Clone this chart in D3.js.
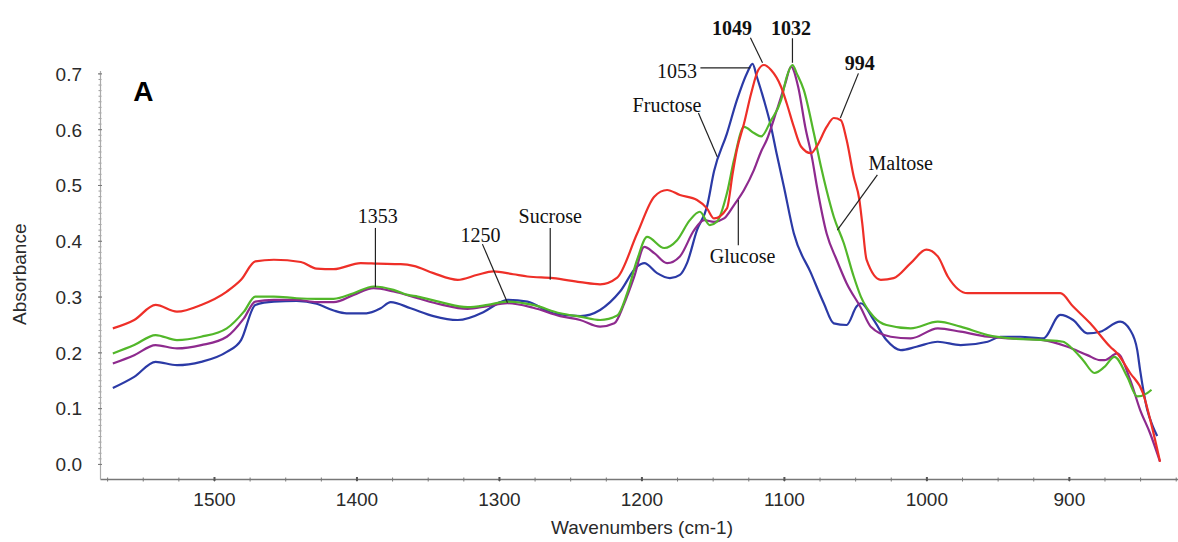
<!DOCTYPE html>
<html>
<head>
<meta charset="utf-8">
<script src="https://cdn.jsdelivr.net/npm/d3@7"></script>
<style>
  body { margin: 0; background: #fff; }
  svg { display: block; }
  .tick text { font-family: "Liberation Sans", Arial, sans-serif; font-size: 19px; fill: #2a2a2a; }
</style>
</head>
<body>
<script>
// absorbance spectra, [wavenumber, absorbance]
const sucrose = [
  [1571, 0.243], [1556, 0.258], [1541, 0.285], [1526, 0.273], [1509, 0.285], [1491, 0.309],
  [1481, 0.330], [1471, 0.363], [1458, 0.366], [1439, 0.362], [1428, 0.350], [1416, 0.349],
  [1397, 0.360], [1385, 0.359], [1369, 0.358], [1360, 0.355], [1346, 0.342], [1329, 0.330],
  [1315, 0.339], [1304, 0.345], [1290, 0.340], [1280, 0.336], [1262, 0.333], [1243, 0.326],
  [1229, 0.322], [1217, 0.334], [1203, 0.413], [1191, 0.479], [1182, 0.491], [1173, 0.482],
  [1161, 0.473], [1154, 0.458], [1149, 0.440], [1140, 0.458], [1136, 0.520], [1133, 0.563],
  [1128, 0.610], [1123, 0.664], [1118, 0.706], [1114, 0.715], [1109, 0.706], [1102, 0.676],
  [1098, 0.646], [1093, 0.604], [1088, 0.569], [1081, 0.557], [1077, 0.569], [1070, 0.604],
  [1065, 0.620], [1060, 0.616], [1056, 0.581], [1051, 0.515], [1047, 0.473], [1045, 0.431],
  [1042, 0.366], [1032, 0.330], [1023, 0.333], [1011, 0.360], [1000, 0.384], [992, 0.372],
  [985, 0.336], [971, 0.306], [953, 0.306], [929, 0.306], [906, 0.306], [897, 0.282],
  [885, 0.252], [871, 0.210], [866, 0.198], [857, 0.163], [848, 0.127], [842, 0.070], [836, 0.004]
]
const maltose = [
  [1571, 0.198], [1556, 0.213], [1541, 0.231], [1526, 0.222], [1509, 0.228], [1491, 0.243],
  [1479, 0.273], [1471, 0.300], [1458, 0.300], [1442, 0.297], [1428, 0.296], [1416, 0.296],
  [1402, 0.306], [1388, 0.318], [1374, 0.312], [1364, 0.303], [1357, 0.300], [1341, 0.290],
  [1322, 0.281], [1308, 0.285], [1294, 0.291], [1276, 0.285], [1257, 0.270], [1243, 0.264],
  [1229, 0.258], [1217, 0.266], [1210, 0.306], [1203, 0.366], [1196, 0.407], [1184, 0.387],
  [1175, 0.401], [1166, 0.437], [1159, 0.452], [1152, 0.428], [1147, 0.434], [1140, 0.485],
  [1135, 0.545], [1128, 0.604], [1121, 0.593], [1116, 0.587], [1109, 0.616], [1102, 0.652],
  [1098, 0.694], [1094, 0.715], [1091, 0.700], [1086, 0.670], [1079, 0.593], [1074, 0.533],
  [1070, 0.490], [1065, 0.443], [1058, 0.396], [1051, 0.336], [1046, 0.300], [1037, 0.264],
  [1028, 0.249], [1011, 0.243], [992, 0.255], [976, 0.246], [957, 0.231], [941, 0.225],
  [918, 0.222], [904, 0.219], [899, 0.210], [890, 0.186], [882, 0.163], [875, 0.174],
  [868, 0.192], [859, 0.156], [852, 0.121], [845, 0.127], [842, 0.133]
]
const glucose = [
  [1571, 0.180], [1556, 0.195], [1541, 0.213], [1526, 0.207], [1509, 0.213], [1491, 0.228],
  [1479, 0.261], [1471, 0.291], [1458, 0.294], [1442, 0.294], [1428, 0.290], [1416, 0.290],
  [1402, 0.303], [1388, 0.315], [1374, 0.309], [1357, 0.297], [1341, 0.286], [1322, 0.278],
  [1308, 0.283], [1294, 0.288], [1276, 0.280], [1257, 0.265], [1243, 0.258], [1229, 0.246],
  [1219, 0.252], [1212, 0.288], [1205, 0.336], [1198, 0.389], [1191, 0.378], [1182, 0.360],
  [1173, 0.372], [1163, 0.419], [1156, 0.437], [1149, 0.434], [1142, 0.440], [1135, 0.464],
  [1128, 0.491], [1121, 0.527], [1116, 0.560], [1112, 0.581], [1105, 0.634], [1099, 0.682],
  [1095, 0.712], [1090, 0.676], [1085, 0.604], [1080, 0.545], [1077, 0.500], [1070, 0.413],
  [1063, 0.366], [1056, 0.324], [1046, 0.280], [1039, 0.246], [1025, 0.228], [1011, 0.225],
  [992, 0.243], [976, 0.237], [957, 0.228], [941, 0.225], [918, 0.222], [901, 0.210],
  [887, 0.195], [878, 0.186], [875, 0.186], [866, 0.198], [857, 0.151], [850, 0.097],
  [843, 0.055], [836, 0.004]
]
const fructose = [
  [1571, 0.136], [1556, 0.156], [1541, 0.183], [1526, 0.177], [1509, 0.183], [1491, 0.201],
  [1481, 0.222], [1471, 0.285], [1458, 0.291], [1442, 0.292], [1428, 0.287], [1416, 0.275],
  [1407, 0.270], [1393, 0.270], [1383, 0.279], [1376, 0.290], [1362, 0.279], [1346, 0.265],
  [1329, 0.258], [1311, 0.272], [1299, 0.290], [1294, 0.294], [1280, 0.291], [1262, 0.270],
  [1243, 0.265], [1229, 0.276], [1215, 0.309], [1203, 0.354], [1198, 0.360], [1189, 0.342],
  [1180, 0.333], [1173, 0.339], [1168, 0.360], [1161, 0.419], [1154, 0.461], [1149, 0.525],
  [1140, 0.592], [1133, 0.652], [1126, 0.700], [1122, 0.717], [1119, 0.694], [1114, 0.652],
  [1109, 0.604], [1105, 0.555], [1100, 0.497], [1093, 0.413], [1081, 0.342], [1072, 0.288],
  [1065, 0.252], [1056, 0.249], [1049, 0.282], [1046, 0.288], [1037, 0.258], [1028, 0.222],
  [1018, 0.204], [1007, 0.210], [992, 0.219], [976, 0.213], [957, 0.219], [948, 0.228],
  [934, 0.228], [918, 0.225], [906, 0.267], [897, 0.258], [887, 0.234], [878, 0.237],
  [864, 0.255], [857, 0.240], [852, 0.204], [850, 0.168], [845, 0.097], [841, 0.067], [838, 0.050]
]

const xTicks = [1500, 1400, 1300, 1200, 1100, 1000, 900]
const yTicks = [0.0, 0.1, 0.2, 0.3, 0.4, 0.5, 0.6, 0.7]

// peak / band callouts: text at [wn, abs], leader from p1 to p2
const notes = [
  { text: '1353', at: [1385, 0.432], p1: [1386.7, 0.423], p2: [1386.7, 0.317] },
  { text: '1250', at: [1313, 0.398], p1: [1311.6, 0.394], p2: [1294, 0.289] },
  { text: 'Sucrose', at: [1264, 0.432], p1: [1264, 0.423], p2: [1264, 0.330] },
  { text: 'Glucose', at: [1129, 0.360], p1: [1132, 0.392], p2: [1132, 0.473] },
  { text: 'Fructose', at: [1182, 0.631], p1: [1160, 0.629], p2: [1146.7, 0.550] },
  { text: '1053', at: [1175, 0.692], p1: [1158.6, 0.710], p2: [1123.5, 0.710] },
  { text: '1049', at: [1136.5, 0.769], p1: [1123.5, 0.764], p2: [1115, 0.719], bold: true },
  { text: '1032', at: [1095, 0.769], p1: [1094, 0.763], p2: [1094, 0.719], bold: true },
  { text: '994', at: [1046.7, 0.706], p1: [1047.7, 0.700], p2: [1060.4, 0.620], bold: true },
  { text: 'Maltose', at: [1018, 0.527], p1: [1034.4, 0.518], p2: [1062.5, 0.419] }
]

const width = 1178
const height = 542

const svg = d3.select('body').append('svg')
  .attr('width', width)
  .attr('height', height)

const x = d3.scaleLinear().domain([1580, 823.4]).range([100, 1178])
const y = d3.scaleLinear().domain([-0.027, 0.705]).range([479, 70.6])

// minor ticks
svg.append('g')
  .attr('transform', 'translate(0,480.5)')
  .call(d3.axisBottom(x).tickValues(d3.range(1575, 824, -25)).tickFormat('').tickSizeInner(3).tickSizeOuter(0))
  .call(g => g.select('.domain').remove())
  .call(g => g.selectAll('line').attr('stroke', '#777').attr('transform', 'translate(0,-3)').attr('y2', 4))

svg.append('g')
  .attr('transform', 'translate(100,0)')
  .call(d3.axisLeft(y).tickValues(d3.range(0, 0.705, 0.01)).tickFormat('').tickSizeInner(3).tickSizeOuter(0))
  .call(g => g.select('.domain').remove())
  .call(g => g.selectAll('line').attr('stroke', '#999').attr('x1', 1.5).attr('x2', -1.5))

const xAxis = svg.append('g')
  .attr('transform', 'translate(0,479)')
  .call(d3.axisBottom(x).tickValues(xTicks).tickFormat(d3.format('d')).tickSizeInner(3).tickSizeOuter(0).tickPadding(11))
xAxis.select('.domain').attr('stroke', '#777').attr('stroke-width', 1.5)
xAxis.selectAll('.tick line').attr('stroke', '#555').attr('stroke-width', 2).attr('y1', -2).attr('y2', 2)

const yAxis = svg.append('g')
  .attr('transform', 'translate(100,0)')
  .call(d3.axisLeft(y).tickValues(yTicks).tickFormat(d3.format('.1f')).tickSizeInner(3).tickSizeOuter(0).tickPadding(15))
yAxis.select('.domain').attr('stroke', '#aaa').attr('stroke-width', 1.2)
yAxis.selectAll('.tick line').attr('stroke', '#777').attr('x1', 2).attr('x2', -2)
yAxis.selectAll('.tick text').attr('dy', '0.36em')

svg.append('text')
  .attr('x', x((1580 + 823.4) / 2) + 3)
  .attr('y', 534)
  .attr('text-anchor', 'middle')
  .style('font-family', '"Liberation Sans", Arial, sans-serif')
  .style('font-size', '19px')
  .style('fill', '#2a2a2a')
  .text('Wavenumbers (cm-1)')

svg.append('text')
  .attr('transform', `translate(26,${y(0.34)}) rotate(-90)`)
  .attr('text-anchor', 'middle')
  .style('font-family', '"Liberation Sans", Arial, sans-serif')
  .style('font-size', '19px')
  .style('fill', '#2a2a2a')
  .text('Absorbance')

svg.append('text')
  .attr('x', x(1549.5))
  .attr('y', y(0.651))
  .attr('text-anchor', 'middle')
  .style('font-family', '"Liberation Sans", Arial, sans-serif')
  .style('font-size', '28px')
  .style('font-weight', 'bold')
  .text('A')

const line = d3.line()
  .x(d => x(d[0]))
  .y(d => y(d[1]))
  .curve(d3.curveMonotoneX)

const series = [
  { data: fructose, color: '#2b3aa6' },
  { data: glucose, color: '#8e2a8e' },
  { data: maltose, color: '#52b72a' },
  { data: sucrose, color: '#ee2f28' }
]

svg.selectAll('path.spectrum')
  .data(series)
  .join('path')
    .attr('class', 'spectrum')
    .attr('d', d => line(d.data))
    .attr('fill', 'none')
    .attr('stroke', d => d.color)
    .attr('stroke-width', 2.2)
    .attr('stroke-linejoin', 'round')

const note = svg.selectAll('g.note')
  .data(notes)
  .join('g')
    .attr('class', 'note')

note.append('line')
  .attr('x1', d => x(d.p1[0]))
  .attr('y1', d => y(d.p1[1]))
  .attr('x2', d => x(d.p2[0]))
  .attr('y2', d => y(d.p2[1]))
  .attr('stroke', '#222')
  .attr('stroke-width', 1.2)

note.append('text')
  .attr('x', d => x(d.at[0]))
  .attr('y', d => y(d.at[1]))
  .attr('text-anchor', 'middle')
  .style('font-family', '"Liberation Serif", "Times New Roman", serif')
  .style('font-size', '20px')
  .style('font-weight', d => d.bold ? 'bold' : 'normal')
  .style('fill', '#111')
  .text(d => d.text)
</script>
</body>
</html>
